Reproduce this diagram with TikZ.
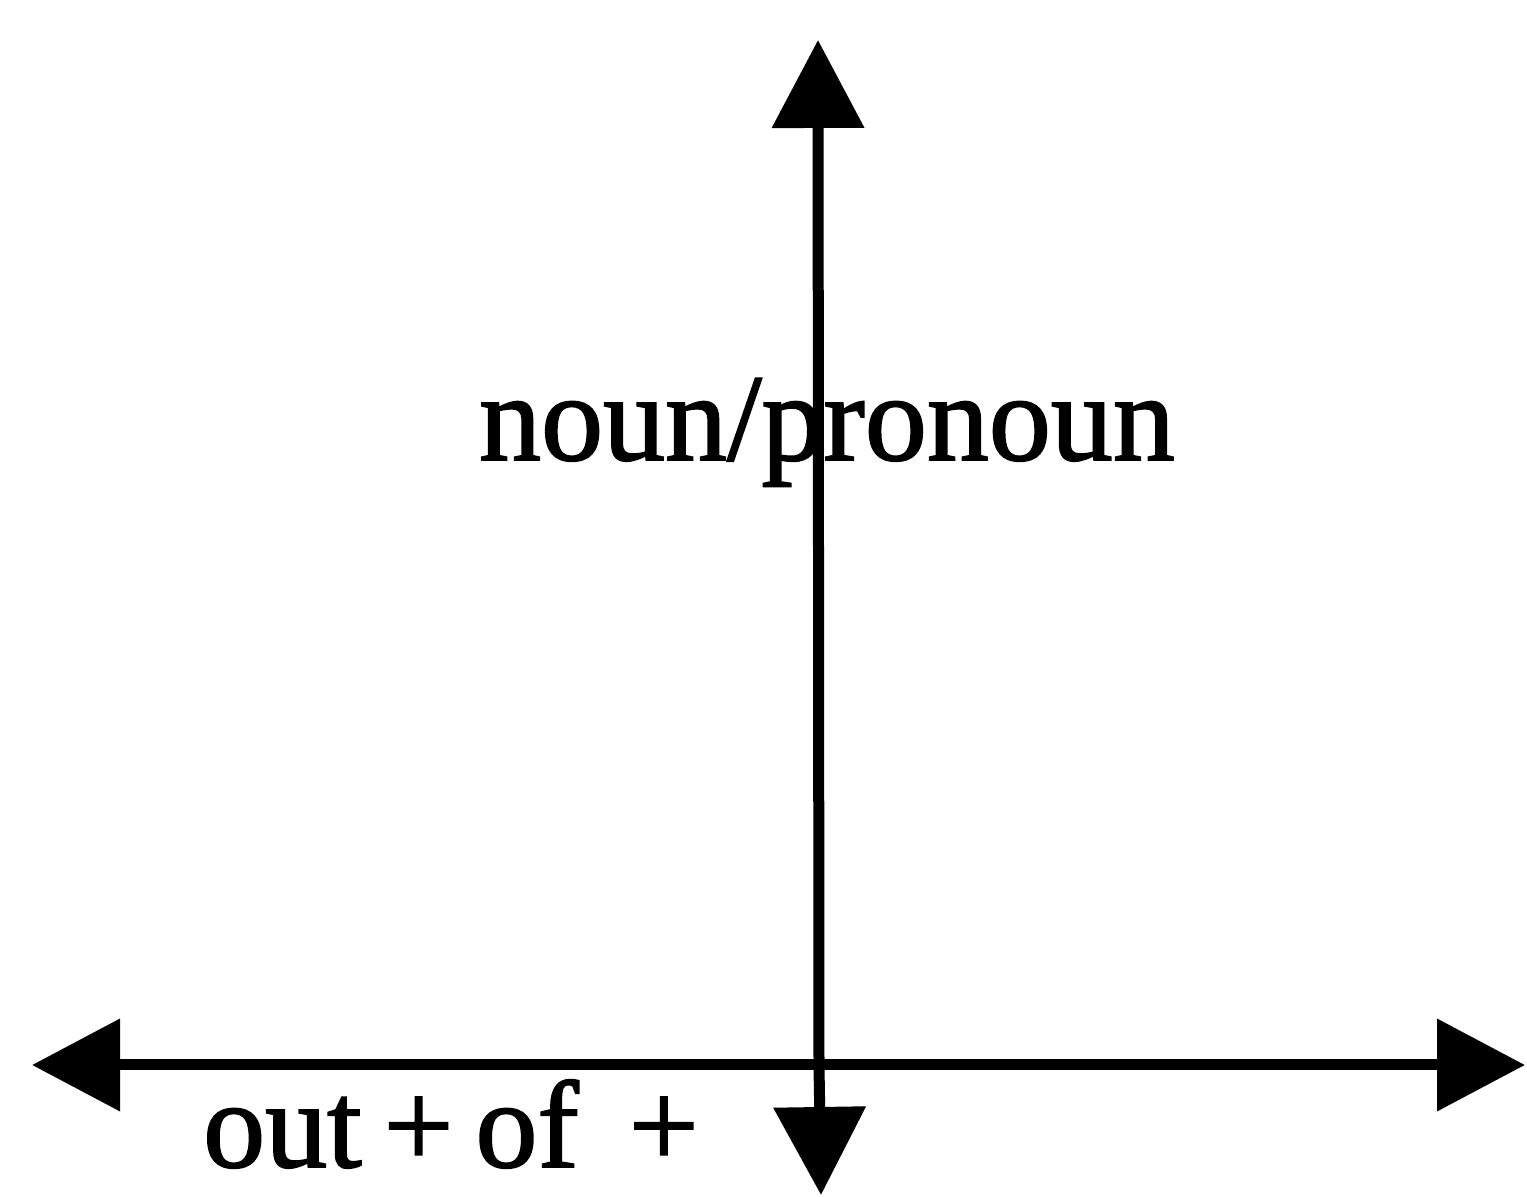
\documentclass[tikz,border=0pt]{standalone}
\usepackage{fontspec}
\setmainfont{Liberation Serif}[FakeBold=1.5]
\usetikzlibrary{arrows.meta}
\begin{document}
\begin{tikzpicture}[x=1pt,y=1pt,
  axis/.style={line width=11pt,-{Triangle[length=88pt,width=90pt]}},
  lbl/.style={font=\fontsize{124}{130}\selectfont,inner sep=0pt,anchor=base}]
\useasboundingbox (0,0) rectangle (1527,1197);
\coordinate (vtop) at (818,1157);
\coordinate (vbot) at (821,2);
\coordinate (hleft) at (32,132);
\coordinate (hright) at (1525,132);
\coordinate (orig) at (819,132);
\draw[axis] (orig) -- (vtop);
\draw[axis] (orig) -- (vbot);
\draw[axis] (orig) -- (hleft);
\draw[axis] (orig) -- (hright);
\node[lbl] (np) at (827,737) {noun/pronoun};
\node[lbl,anchor=base west] (oo) at (203,30) {out\kern22pt+\kern22pt of\kern50pt+};
\end{tikzpicture}
\end{document}
